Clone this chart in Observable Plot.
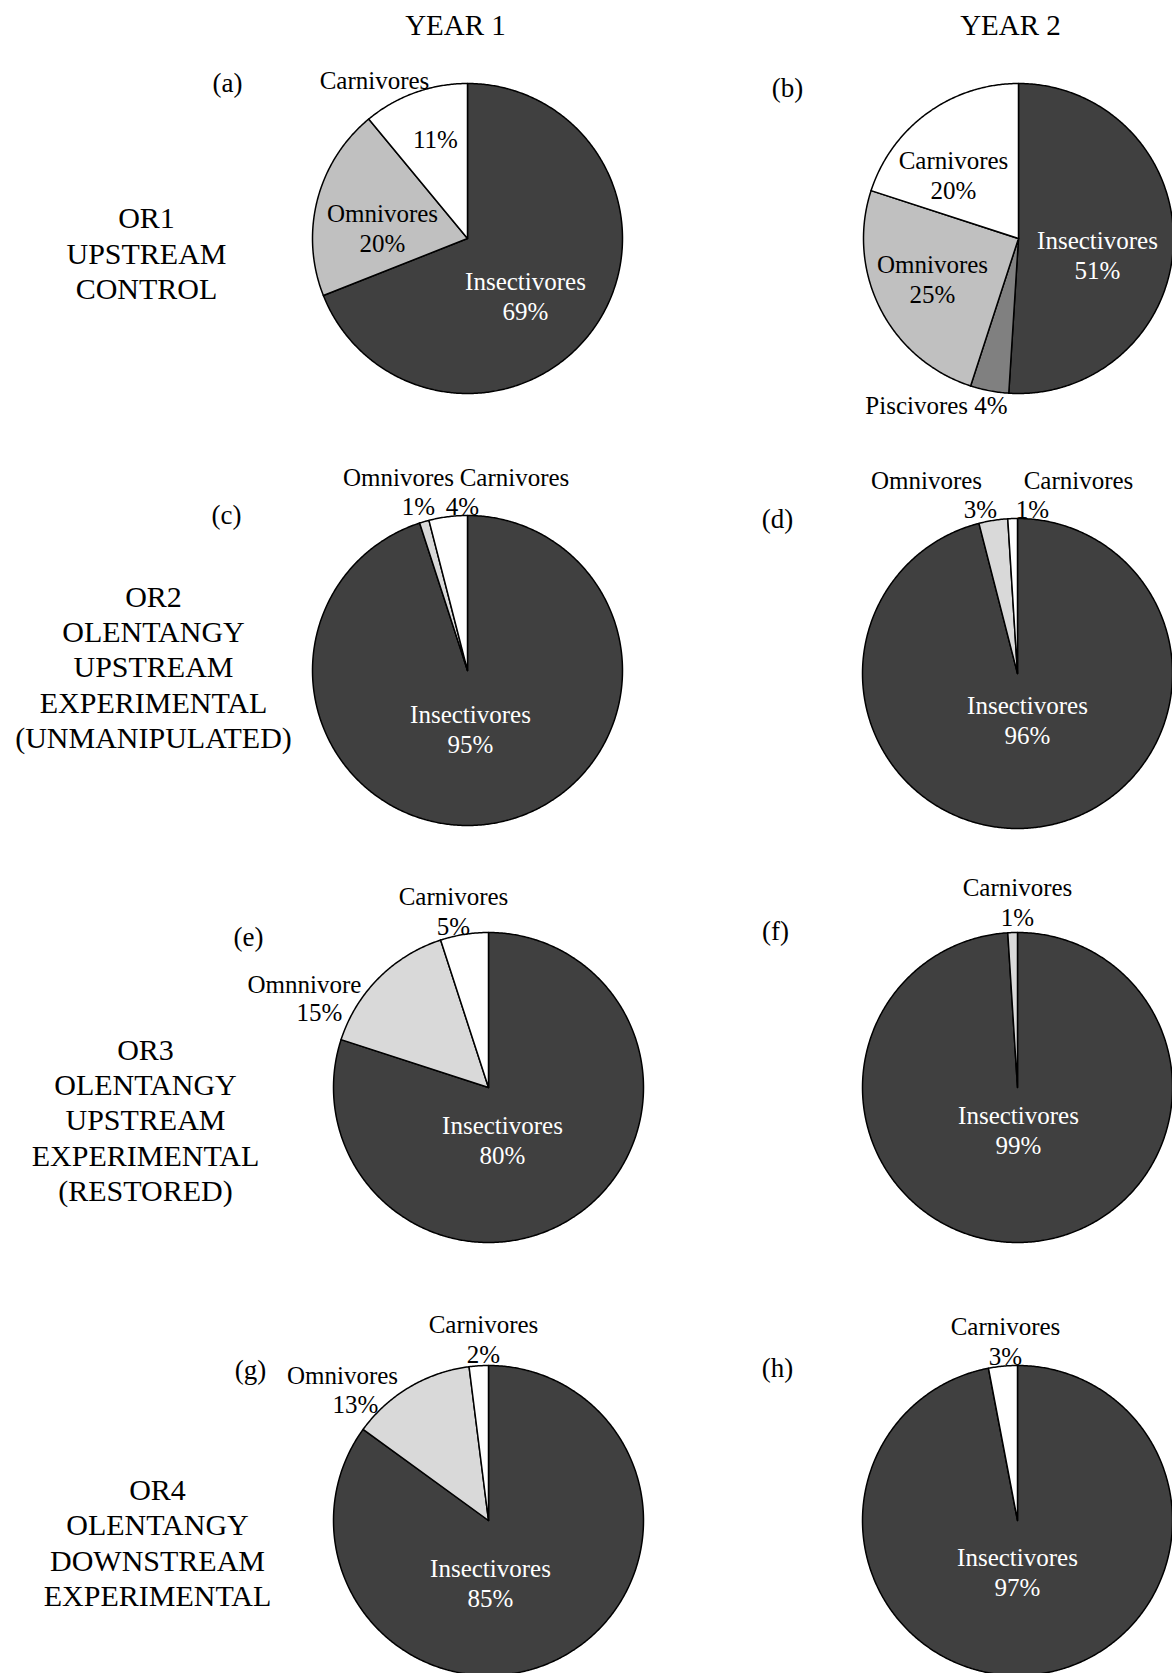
<!DOCTYPE html>
<html>
<head>
<meta charset="utf-8">
<script src="https://cdn.jsdelivr.net/npm/d3@7"></script>
<script src="https://cdn.jsdelivr.net/npm/@observablehq/plot@0.6"></script>
<style>
  html, body { margin: 0; padding: 0; background: #fff; }
  #chart svg { display: block; }
</style>
</head>
<body>
<div id="chart"></div>
<script>
// Trophic guild composition (% of individuals) for four Olentangy River sites over two years.
const panels = ["(a)", "(b)", "(c)", "(d)", "(e)", "(f)", "(g)", "(h)"];
const years = ["YEAR 1", "YEAR 2"];
const sites = [
  ["OR1", "UPSTREAM", "CONTROL"],
  ["OR2", "OLENTANGY", "UPSTREAM", "EXPERIMENTAL", "(UNMANIPULATED)"],
  ["OR3", "OLENTANGY", "UPSTREAM", "EXPERIMENTAL", "(RESTORED)"],
  ["OR4", "OLENTANGY", "DOWNSTREAM", "EXPERIMENTAL"]
];
// Guilds in clockwise order starting at 12 o'clock
const guilds = ["Insectivores", "Piscivores", "Omnivores", "Carnivores"];
const insectivores = [69, 51, 95, 96, 80, 99, 85, 97];
const piscivores   = [0, 4, 0, 0, 0, 0, 0, 0];
const omnivores    = [20, 25, 1, 3, 15, 0, 13, 0];
const carnivores   = [11, 20, 4, 1, 5, 1, 2, 3];
const omnivoreNames = ["Omnivores", "Omnivores", "Omnivores", "Omnivores", "Omnnivore", "Omnivores", "Omnivores", "Omnivores"];

const values = {Insectivores: insectivores, Piscivores: piscivores, Omnivores: omnivores, Carnivores: carnivores};
const guildName = (g, i) => g === "Omnivores" ? omnivoreNames[i] : g;

// ---- layout & styling ----
const W = 1172, H = 1673;
const pieCenters = [[467, 238], [1018, 238], [467, 670], [1017, 673], [488, 1087], [1017, 1087], [488, 1520], [1017, 1520]];
const pieRadius = 155;
const shade = {
  Insectivores: () => "#404040",
  Piscivores: () => "#808080",
  Omnivores: i => (i < 2 ? "#c0c0c0" : "#d9d9d9"),
  Carnivores: i => (i === 5 ? "#d9d9d9" : "#ffffff")
};
const serif = "Liberation Serif, Times New Roman, serif";

// Build one closed polygon per slice from the cumulative shares
const slices = [];
panels.forEach((p, i) => {
  const total = d3.sum(guilds, g => values[g][i]);
  const [cx, cy] = pieCenters[i];
  let cum = 0;
  for (const g of guilds) {
    const v = values[g][i];
    if (v > 0) {
      const a0 = (cum / total) * 2 * Math.PI, a1 = ((cum + v) / total) * 2 * Math.PI;
      const n = Math.max(2, Math.ceil((a1 - a0) / (Math.PI / 360)));
      const pts = [{x: cx, y: cy}];
      for (let k = 0; k <= n; k++) {
        const a = a0 + (a1 - a0) * k / n;
        pts.push({x: cx + pieRadius * Math.sin(a), y: cy - pieRadius * Math.cos(a)});
      }
      pts.push({x: cx, y: cy});
      slices.push({panel: i, guild: g, fill: shade[g](i), pts});
    }
    cum += v;
  }
});

// Slice labels: text comes from the data; x and baseline of the last line are layout
const L = (i, g, part, x, y) => {
  const n = guildName(g, i), v = `${values[g][i]}%`;
  const text = part === "both" ? `${n}\n${v}` : part === "name" ? n : part === "value" ? v : `${n} ${v}`;
  return {text, x, y, fill: g === "Insectivores" ? "#ffffff" : "#000000"};
};
const sliceLabels = [
  L(0, "Carnivores", "name", 374, 88), L(0, "Carnivores", "value", 435, 147),
  L(0, "Omnivores", "both", 382, 251), L(0, "Insectivores", "both", 525, 319),
  L(1, "Carnivores", "both", 953, 198), L(1, "Omnivores", "both", 932, 302),
  L(1, "Insectivores", "both", 1097, 278), L(1, "Piscivores", "inline", 936, 413),
  L(2, "Omnivores", "name", 398, 485), L(2, "Carnivores", "name", 514, 485),
  L(2, "Omnivores", "value", 418, 514), L(2, "Carnivores", "value", 462, 514),
  L(2, "Insectivores", "both", 470, 752),
  L(3, "Omnivores", "name", 926, 488), L(3, "Carnivores", "name", 1078, 488),
  L(3, "Omnivores", "value", 980, 517), L(3, "Carnivores", "value", 1032, 517),
  L(3, "Insectivores", "both", 1027, 743),
  L(4, "Carnivores", "both", 453, 934), L(4, "Omnivores", "name", 304, 992),
  L(4, "Omnivores", "value", 319, 1020), L(4, "Insectivores", "both", 502, 1163),
  L(5, "Carnivores", "both", 1017, 925), L(5, "Insectivores", "both", 1018, 1153),
  L(6, "Carnivores", "both", 483, 1362), L(6, "Omnivores", "name", 342, 1383),
  L(6, "Omnivores", "value", 355, 1412), L(6, "Insectivores", "both", 490, 1606),
  L(7, "Carnivores", "both", 1005, 1364), L(7, "Insectivores", "both", 1017, 1595)
];

const yearPos = [[455, 34], [1010, 34]];
const sitePos = [[146, 298], [153, 747], [145, 1200], [157, 1605]];
const panelPos = [[227, 91], [787, 96], [226, 523], [777, 527], [248, 945], [775, 939], [250, 1378], [777, 1376]];

const marks = [];
for (const s of slices) {
  marks.push(Plot.line(s.pts, {
    x: "x", y: "y", fill: s.fill, stroke: "#000", strokeWidth: 1.5,
    strokeLinejoin: "round", curve: "linear"
  }));
}
marks.push(Plot.text(sliceLabels, {
  x: "x", y: "y", text: "text", fill: "fill", lineAnchor: "bottom", textAnchor: "middle",
  lineHeight: 1.18, fontSize: 25, fontFamily: serif
}));
marks.push(Plot.text(years, {
  x: (d, i) => yearPos[i][0], y: (d, i) => yearPos[i][1], text: d => d,
  lineAnchor: "bottom", fontSize: 29, fontFamily: serif, fill: "#000"
}));
marks.push(Plot.text(sites, {
  x: (d, i) => sitePos[i][0], y: (d, i) => sitePos[i][1], text: d => d.join("\n"),
  lineAnchor: "bottom", lineHeight: 1.167, fontSize: 30, fontFamily: serif, fill: "#000"
}));
marks.push(Plot.text(panels, {
  x: (d, i) => panelPos[i][0], y: (d, i) => panelPos[i][1], text: d => d,
  lineAnchor: "bottom", fontSize: 27, fontFamily: serif, fill: "#000"
}));

const chart = Plot.plot({
  width: W, height: H, margin: 0,
  x: {domain: [0, W], range: [0, W], axis: null},
  y: {domain: [0, H], range: [0, H], axis: null},
  color: {type: "identity"},
  style: {background: "#fff"},
  marks
});
document.getElementById("chart").append(chart);
</script>
</body>
</html>
